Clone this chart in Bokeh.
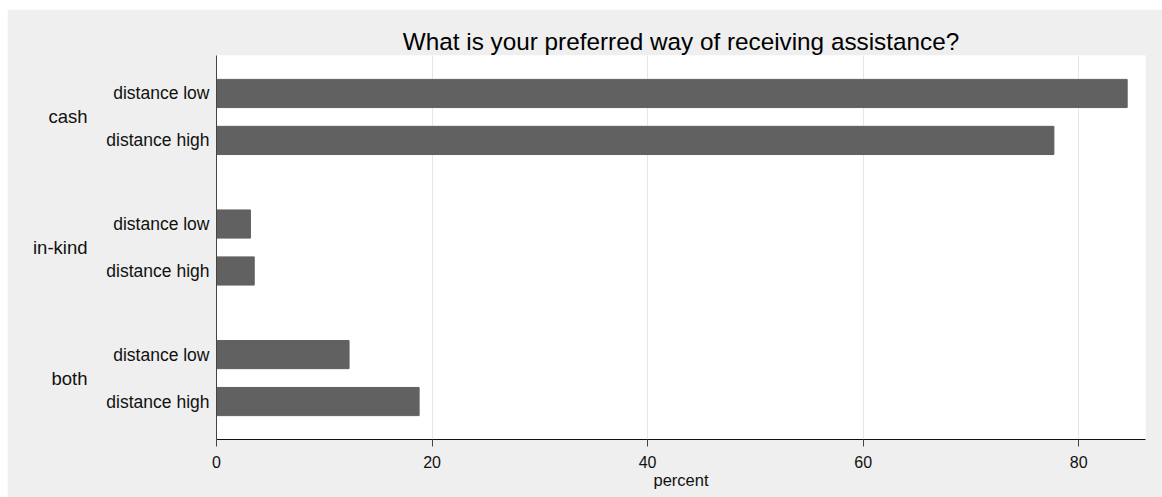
from bokeh.plotting import figure
from bokeh.models import FactorRange, Range1d, FixedTicker, CategoricalAxis
from bokeh.embed import file_html
from bokeh.resources import INLINE

# ---- data ----
categories = ["cash", "in-kind", "both"]
subgroups = ["distance low", "distance high"]
distance_low = [84.5, 3.15, 12.3]
distance_high = [77.7, 3.5, 18.8]
x_ticks = [0, 20, 40, 60, 80]
title_text = "What is your preferred way of receiving assistance?"
x_label = "percent"

# build factors (bottom-to-top order for the y axis)
factors = []
values = []
for ci in reversed(range(len(categories))):
    for sg, series in reversed(list(zip(subgroups, [distance_low, distance_high]))):
        factors.append((categories[ci], sg))
        values.append(series[ci])

FONT = "Liberation Sans"
BG = "#efefef"

GP = 0.78      # gap between groups
RP = 0.3085    # padding at each end
yr = FactorRange(*factors, factor_padding=0.0, group_padding=GP,
                 range_padding=RP, range_padding_units="absolute")

# a range with one factor per group whose centres coincide with the group centres
n_sub = len(subgroups)
grp_fp = n_sub + GP - 1
grp_rp = RP + n_sub / 2 - 0.5
group_range = FactorRange(*list(reversed(categories)), factor_padding=grp_fp,
                          range_padding=grp_rp, range_padding_units="absolute")

p = figure(width=1155, height=488, y_range=yr, x_range=Range1d(0, 86.2),
           output_backend="svg", toolbar_location=None,
           min_border_left=209, min_border_right=17, min_border_top=46,
           min_border_bottom=58)
p.margin = (9, 0, 0, 7)
p.extra_y_ranges = {"groups": group_range}

p.hbar(y=factors, right=values, left=0, height=0.6, color="#616161")

p.background_fill_color = "white"
p.border_fill_color = BG
p.outline_line_color = None

p.title.text = title_text
p.title.align = "center"
p.title.text_font = FONT
p.title.text_font_size = "24.3px"
p.title.text_font_style = "normal"
p.title.text_color = "black"
p.title.standoff = 2

# x axis
xa = p.xaxis[0]
xa.ticker = FixedTicker(ticks=x_ticks)
xa.minor_tick_line_color = None
xa.major_tick_out = 7
xa.major_tick_in = 0
xa.major_tick_line_color = "#444444"
xa.axis_line_color = "#111111"
xa.major_label_text_font = FONT
xa.major_label_text_font_size = "16px"
xa.major_label_text_color = "#111111"
xa.major_label_standoff = 9
xa.axis_label = x_label
xa.axis_label_text_font = FONT
xa.axis_label_text_font_size = "16.5px"
xa.axis_label_text_font_style = "normal"
xa.axis_label_text_color = "#111111"
xa.axis_label_standoff = 0

# y axis (subgroup labels)
ya = p.yaxis[0]
ya.axis_line_color = "#444444"
ya.major_tick_line_color = None
ya.minor_tick_line_color = None
ya.major_label_standoff = 1
ya.major_label_text_font = FONT
ya.major_label_text_font_size = "17.5px"
ya.major_label_text_color = "#111111"
ya.group_text_font_size = "0px"
ya.group_text_color = None
ya.separator_line_color = None

# outer axis (group labels)
ga = CategoricalAxis(y_range_name="groups")
ga.axis_line_color = None
ga.major_tick_line_color = None
ga.minor_tick_line_color = None
ga.major_label_standoff = 10
ga.major_label_text_font = FONT
ga.major_label_text_font_size = "18.5px"
ga.major_label_text_color = "#111111"
p.add_layout(ga, "left")

p.ygrid.grid_line_color = None
p.xgrid.grid_line_color = "#e6e6e6"
p.xgrid.ticker = FixedTicker(ticks=x_ticks)

open("out.html", "w").write(file_html(p, INLINE))
